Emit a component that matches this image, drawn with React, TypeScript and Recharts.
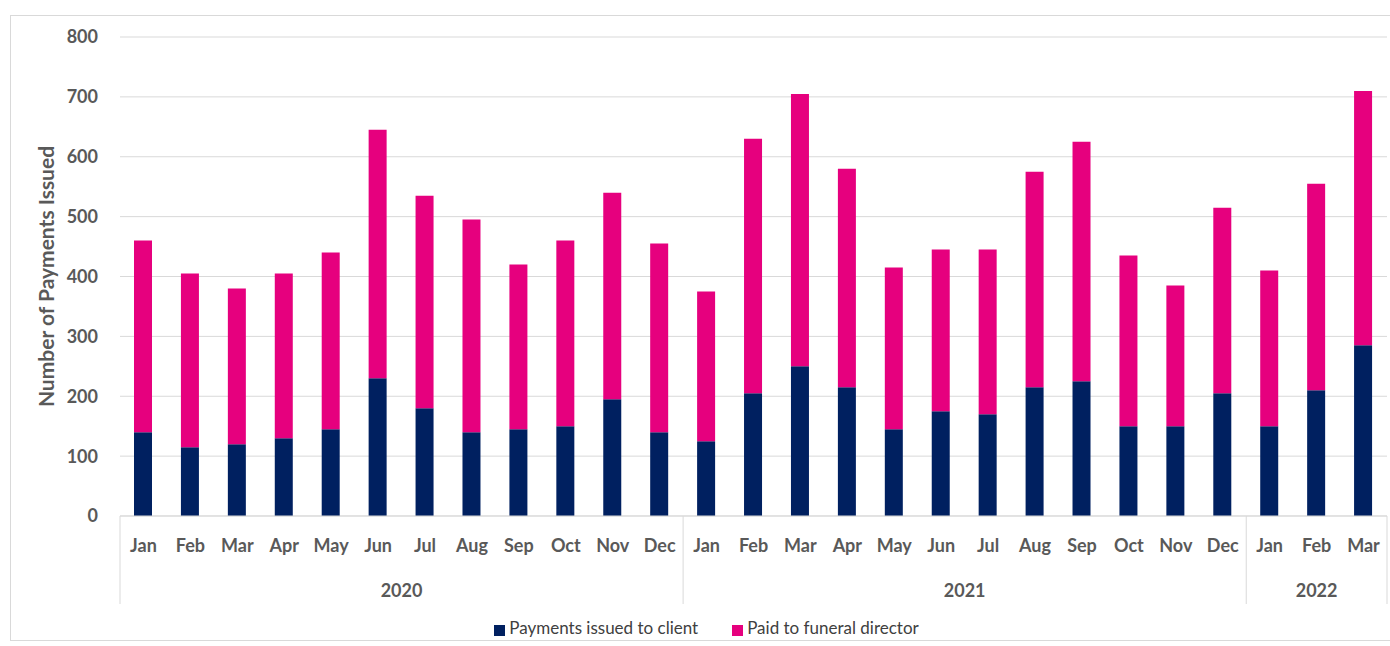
import { BarChart, Bar, XAxis, YAxis, CartesianGrid, Legend } from 'recharts'

const months = [
  'Jan', 'Feb', 'Mar', 'Apr', 'May', 'Jun', 'Jul', 'Aug', 'Sep', 'Oct', 'Nov', 'Dec',
  'Jan', 'Feb', 'Mar', 'Apr', 'May', 'Jun', 'Jul', 'Aug', 'Sep', 'Oct', 'Nov', 'Dec',
  'Jan', 'Feb', 'Mar',
]
const years = [
  '2020', '2020', '2020', '2020', '2020', '2020', '2020', '2020', '2020', '2020', '2020', '2020',
  '2021', '2021', '2021', '2021', '2021', '2021', '2021', '2021', '2021', '2021', '2021', '2021',
  '2022', '2022', '2022',
]
// Payments issued to client
const clientPayments = [
  140, 115, 120, 130, 145, 230, 180, 140, 145, 150, 195, 140,
  125, 205, 250, 215, 145, 175, 170, 215, 225, 150, 150, 205,
  150, 210, 285,
]
// Paid to funeral director
const funeralPayments = [
  320, 290, 260, 275, 295, 415, 355, 355, 275, 310, 345, 315,
  250, 425, 455, 365, 270, 270, 275, 360, 400, 285, 235, 310,
  260, 345, 425,
]
const yTicks = [0, 100, 200, 300, 400, 500, 600, 700, 800]

const data = months.map((month, i) => ({
  month,
  year: years[i],
  client: clientPayments[i],
  funeral: funeralPayments[i],
}))

const FONT = 'Lato, "Open Sans", sans-serif'
const GREY = '#595959'
const LINE = '#d9d9d9'
const CHART_W = 1390
const MARGIN = { top: 37, right: 3, left: 60, bottom: 8 }
const Y_AXIS_W = 60
const PLOT_W = CHART_W - MARGIN.left - MARGIN.right - Y_AXIS_W
const BAND = PLOT_W / data.length

// two-level category axis: year labels centred under their months, with separators
const YearTick = (props: any) => {
  const { x, y, index } = props
  const year = years[index]
  const first = index === 0 || years[index - 1] !== year
  const last = index === years.length - 1
  if (!first && !last) return <g />
  const count = years.filter((v) => v === year).length
  return (
    <g>
      {first && (
        <line x1={x - BAND / 2} x2={x - BAND / 2} y1={y - 50} y2={y + 38} stroke={LINE} />
      )}
      {first && (
        <text
          x={x + ((count - 1) / 2) * BAND}
          y={y + 31}
          textAnchor="middle"
          fontFamily={FONT}
          fontWeight={700}
          fontSize={18}
          fill={GREY}
        >
          {year}
        </text>
      )}
      {last && (
        <line x1={x + BAND / 2} x2={x + BAND / 2} y1={y - 50} y2={y + 38} stroke={LINE} />
      )}
    </g>
  )
}

const YLabel = (props: any) => {
  const { viewBox } = props
  const cx = viewBox.x - 15
  const cy = viewBox.y + viewBox.height / 2
  return (
    <text
      x={cx}
      y={cy}
      transform={`rotate(-90, ${cx}, ${cy})`}
      textAnchor="middle"
      dominantBaseline="central"
      fontFamily={FONT}
      fontSize={21}
      fontWeight={700}
      fill={GREY}
    >
      Number of Payments Issued
    </text>
  )
}

const legendOrder = ['client', 'funeral']

export default function App() {
  return (
    <div style={{ position: 'absolute', left: 0, top: 0, width: 1390, height: 646, background: '#fff' }}>
      <div
        style={{
          position: 'absolute',
          left: 10,
          top: 15,
          width: 1400,
          height: 624,
          border: `1px solid ${LINE}`,
        }}
      />
      <BarChart
        width={CHART_W}
        height={646}
        data={data}
        margin={MARGIN}
        barSize={18}
        style={{ position: 'absolute', left: 0, top: 0 }}
      >
        <CartesianGrid vertical={false} stroke={LINE} />
        <YAxis
          width={Y_AXIS_W}
          domain={[0, 800]}
          ticks={yTicks}
          axisLine={false}
          tickLine={false}
          tickSize={0}
          tickMargin={22}
          tick={{ fontFamily: FONT, fontSize: 18, fontWeight: 700, fill: GREY }}
          label={<YLabel />}
        />
        <XAxis
          dataKey="month"
          height={50}
          axisLine={{ stroke: LINE }}
          tickLine={false}
          tickSize={0}
          tickMargin={23}
          interval={0}
          tick={{ fontFamily: FONT, fontSize: 18, fontWeight: 700, fill: GREY }}
        />
        <XAxis
          dataKey="year"
          xAxisId="year"
          height={51}
          axisLine={false}
          tickLine={false}
          tickSize={0}
          tickMargin={0}
          interval={0}
          tick={<YearTick />}
        />
        <Legend
          verticalAlign="bottom"
          align="center"
          iconType="square"
          iconSize={11}
          itemSorter={(item: any) => legendOrder.indexOf(item.dataKey)}
          formatter={(value: string) => (
            <span style={{ color: '#404040', fontFamily: FONT, fontSize: 17, marginRight: 24 }}>{value}</span>
          )}
        />
        <Bar
          dataKey="client"
          name="Payments issued to client"
          stackId="a"
          fill="#002060"
          isAnimationActive={false}
        />
        <Bar
          dataKey="funeral"
          name="Paid to funeral director"
          stackId="a"
          fill="#E6007E"
          isAnimationActive={false}
        />
      </BarChart>
    </div>
  )
}
